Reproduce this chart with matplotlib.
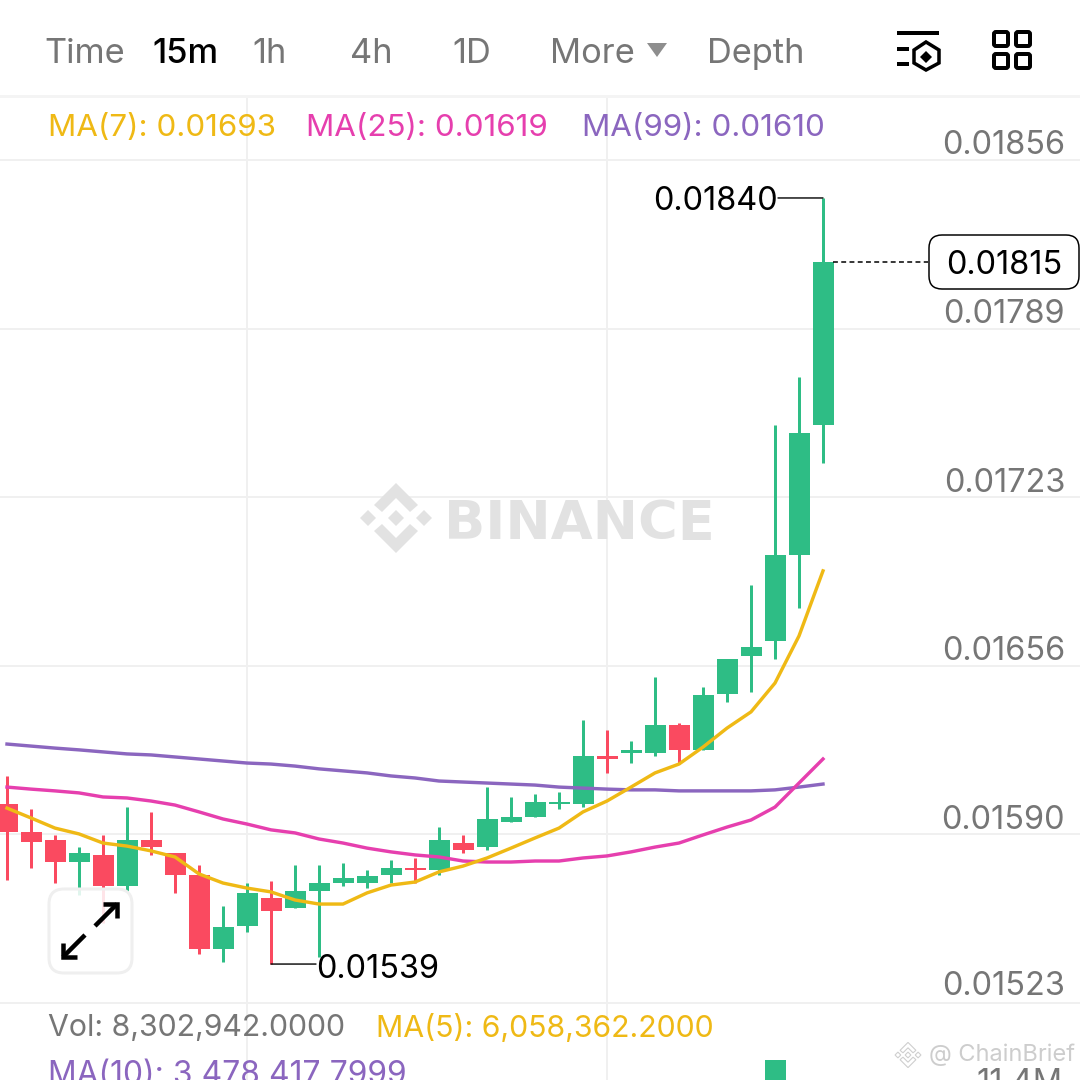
import numpy as np
import matplotlib
matplotlib.use("Agg")
import matplotlib.pyplot as plt
from matplotlib.patches import FancyBboxPatch, Polygon, Rectangle
from matplotlib.transforms import Affine2D, blended_transform_factory

# prices in units of 0.00001
opens = [1601.6,1590.6,1587.4,1578.7,1581.5,1569.2,1587.4,1582.3,1573.6,1544.3,1553.4,1564.5,1560.5,1567.3,1570.4,1570.4,1573.6,1576.3,
         1575.6,1586.2,1584.6,1594.5,1596.5,1601.6,1601.6,1620.6,1621.8,1621.8,1632.8,1623.0,1645.1,1660.1,1666.0,1700.0,1751.3]
closes = [1590.6,1586.6,1578.7,1582.3,1569.2,1587.4,1584.6,1573.6,1544.3,1553.0,1566.5,1559.4,1567.3,1570.4,1572.4,1573.2,1576.3,1575.6,
          1587.4,1583.5,1595.7,1596.5,1602.4,1602.4,1620.6,1619.4,1623.0,1632.8,1623.0,1644.7,1658.9,1663.6,1700.0,1748.2,1815.7]
highs = [1612.7,1599.6,1589.4,1584.6,1589.4,1600.4,1598.5,1582.3,1577.5,1561.3,1570.4,1571.2,1577.5,1577.5,1578.3,1575.6,1579.5,1580.3,
         1592.5,1589.4,1608.3,1604.4,1605.6,1606.4,1634.8,1630.9,1626.5,1651.8,1633.6,1647.8,1658.9,1688.1,1751.3,1770.3,1841.0]
lows = [1571.6,1576.3,1570.4,1565.7,1554.6,1567.3,1581.5,1566.5,1542.4,1539.2,1551.1,1538.4,1560.5,1541.2,1569.2,1568.4,1570.4,1570.4,
        1573.6,1582.3,1583.5,1594.5,1596.5,1599.6,1600.4,1613.9,1617.8,1620.6,1617.4,1623.0,1641.9,1645.9,1658.9,1679.0,1736.3]
ma7 = [1600.0,1596.1,1592.1,1589.8,1586.2,1585.0,1583.1,1580.7,1574.0,1570.4,1568.4,1566.9,1563.7,1562.1,1562.1,1566.5,1569.6,1570.8,
       1574.8,1577.1,1580.3,1584.2,1588.2,1592.1,1598.5,1602.8,1608.3,1613.9,1617.4,1624.1,1631.6,1638.0,1649.4,1668.0,1693.7]
ma25 = [1608.3,1607.5,1606.8,1606.0,1604.4,1604.0,1602.8,1601.2,1598.5,1595.7,1593.7,1591.4,1590.2,1587.8,1586.2,1584.2,1582.7,1581.5,
        1580.7,1579.1,1578.7,1578.7,1579.1,1579.1,1580.3,1581.1,1582.7,1584.6,1586.2,1589.4,1592.5,1595.3,1600.4,1609.9,1619.4]
ma99 = [1625.3,1624.5,1623.7,1623.0,1622.2,1621.4,1621.0,1620.2,1619.4,1618.6,1617.8,1617.4,1616.6,1615.5,1614.7,1613.9,1612.7,1611.9,
        1610.7,1610.3,1609.9,1609.5,1609.1,1608.3,1607.9,1607.5,1607.2,1607.2,1606.8,1606.8,1606.8,1606.8,1607.2,1608.3,1609.5]
vol_index = [32]
vol_values = [11.4e6]
price_ticks = [1856, 1789.4, 1722.8, 1656.2, 1589.6, 1523]
price_labels = ["0.01856", "0.01789", "0.01723", "0.01656", "0.01590", "0.01523"]
time_ticks = [10, 25]
intervals = ["Time", "15m", "1h", "4h", "1D", "More", "Depth"]

GREEN, RED = "#2EBD85", "#FA4A60"
YEL, PINK, PURP, GREY, GRID = "#EFB915", "#E63FAE", "#8B66BF", "#767676", "#F0F0F0"
FS = 21.8      # legend line under the chart
FS_NUM = 23.4  # price labels
FS_HEAD = 24.8 # interval tabs
FS_MA = 22.6   # MA legend

plt.rcParams["font.family"] = ["Inter", "DejaVu Sans"]
fig = plt.figure(figsize=(10.8, 10.8), dpi=100)
px = Affine2D().scale(1 / 1080, -1 / 1080).translate(0, 1) + fig.transFigure
lw = lambda p: p * 0.72

ax = fig.add_axes([0, 0, 1, 1])
ax.set_xlim(-7 / 24, 1073 / 24)
ax.set_ylim(1919.2 - 0.395 * 1080, 1919.2)
for s in ax.spines.values():
    s.set_visible(False)
ax.set_xticks(time_ticks)
ax.set_yticks(price_ticks)
ax.tick_params(length=0, labelleft=False, labelbottom=False)
ax.grid(True, color=GRID, lw=lw(2))
ax.set_axisbelow(True)
ypx = blended_transform_factory(px, ax.transData)

# watermark
def logo(cx, cy, s, **kw):
    shapes = [
        [(0, -8), (8, 0), (0, 8), (-8, 0)],
        [(-28, -8), (-20, 0), (-28, 8), (-36, 0)],
        [(28, -8), (36, 0), (28, 8), (20, 0)],
        [(0, -35), (22, -13), (14, -6), (0, -20), (-14, -6), (-22, -13)],
        [(0, 35), (22, 13), (14, 6), (0, 20), (-14, 6), (-22, 13)],
    ]
    for sh in shapes:
        ax.add_patch(Polygon([(cx + a * s, cy + b * s) for a, b in sh], transform=px, zorder=1.5, **kw))

logo(396, 518, 1, fc="#E2E2E2", ec="none")
ax.text(444, 518, "BINANCE", transform=px, fontsize=39, fontweight="bold", color="#E2E2E2",
        va="center_baseline", ha="left", family=["DejaVu Sans"], zorder=1.5)

# candles
x = np.arange(len(opens))
colors = [GREEN if c >= o else RED for o, c in zip(opens, closes)]
ax.vlines(x, lows, highs, colors=colors, lw=lw(3), zorder=2)
ax.bar(x, np.abs(np.subtract(closes, opens)), bottom=np.minimum(opens, closes), width=0.875, color=colors, zorder=3)

ax.plot(x, ma99, color=PURP, lw=lw(3.4), zorder=4)
ax.plot(x, ma25, color=PINK, lw=lw(3.4), zorder=4)
ax.plot(x, ma7, color=YEL, lw=lw(3.4), zorder=4)

# annotations
leader = dict(arrowstyle="-", color="black", lw=1, shrinkA=0, shrinkB=0)
ax.annotate("", xy=(34, highs[34]), xytext=(778, highs[34]), xycoords="data", textcoords=(px, ax.transData),
            arrowprops=leader, zorder=6)
ax.annotate("", xy=(11, lows[11]), xytext=(316, lows[11]), xycoords="data", textcoords=(px, ax.transData),
            arrowprops=leader, zorder=6)
ax.text(778, 202, "0.01840", transform=px, ha="right", va="center", fontsize=FS_NUM, color="black", zorder=6)
ax.text(316, 969, "0.01539", transform=px, ha="left", va="center", fontsize=FS_NUM, color="black", zorder=6)
ax.plot([833, 928], [closes[34]] * 2, transform=ypx, color="black", lw=1.1, dashes=(3.2, 2.2), zorder=6)

# right tick labels
for t, lab, off in zip(price_ticks, price_labels, [14, 14, 14, 14, 14, 17]):
    ax.annotate(lab, xy=(1065, t), xycoords=(px, ax.transData), xytext=(0, off), textcoords="offset pixels",
                ha="right", va="center", fontsize=FS_NUM, color=GREY, zorder=5)
ax.add_patch(FancyBboxPatch((929, 235), 150, 54, boxstyle="round,pad=0,rounding_size=13", transform=px,
                            fc="white", ec="black", lw=lw(1.5), zorder=6, mutation_aspect=1))
ax.text(1004, 265, "0.01815", transform=px, ha="center", va="center", fontsize=FS_NUM, color="black", zorder=7)

# header
ax.add_patch(Rectangle((0, 0), 1080, 96, transform=px, fc="white", ec="none", zorder=5))
ax.add_patch(Rectangle((0, 95), 1080, 3, transform=px, fc="#F4F4F4", ec="none", zorder=5))
for lab, xp in zip(intervals, [44, 152, 252, 350, 452, 550, 707]):
    ax.text(xp, 54, lab, transform=px, ha="left", va="center", fontsize=FS_HEAD, zorder=6,
            color="black" if lab == "15m" else GREY, fontweight="medium" if lab == "15m" else "normal")
ax.add_patch(Polygon([(647, 43), (667, 43), (657, 57)], transform=px, fc="#8E8E8E", ec="none", zorder=6))
for lab, xp, c in [("MA(7): 0.01693", 48, YEL), ("MA(25): 0.01619", 306, PINK), ("MA(99): 0.01610", 582, PURP)]:
    ax.text(xp, 128, lab, transform=px, ha="left", va="center", fontsize=FS_MA, color=c, zorder=6)

# icons
for xs, ys in [([897, 939], [33, 33]), ([897, 909], [49, 49]), ([897, 909], [64, 64])]:
    ax.plot(xs, ys, transform=px, color="black", lw=lw(4), zorder=6, solid_capstyle="butt")
ax.add_patch(Polygon([(926, 42), (939, 50), (939, 63), (926, 70), (914, 63), (914, 50)], transform=px,
                     fc="white", ec="black", lw=lw(3.5), zorder=6))
ax.add_patch(Polygon([(926, 51), (932, 57), (926, 63), (920, 57)], transform=px, fc="black", ec="none", zorder=7))
for a in (992, 1014):
    for b in (30, 52):
        ax.add_patch(FancyBboxPatch((a + 2, b + 2), 14, 14, boxstyle="round,pad=0,rounding_size=2", transform=px,
                                    fc="white", ec="black", lw=lw(4), zorder=6))

# expand button
ax.add_patch(FancyBboxPatch((49, 889), 83, 84, boxstyle="round,pad=0,rounding_size=15", transform=px,
                            fc=(1, 1, 1, 0.86), ec="#EFEFEF", lw=lw(3), zorder=5))
for xs, ys in [([63, 85], [957, 935]), ([63, 63, 77], [943, 957, 957]),
               ([95, 117], [926, 904]), ([103, 117, 117], [904, 904, 918])]:
    ax.plot(xs, ys, transform=px, color="black", lw=lw(4.5), zorder=6, solid_joinstyle="miter", solid_capstyle="butt")

# volume section
ax.text(48, 1028, "Vol: 8,302,942.0000", transform=px, ha="left", va="center", fontsize=FS, color=GREY, zorder=6)
ax.text(376, 1028, "MA(5): 6,058,362.2000", transform=px, ha="left", va="center", fontsize=FS, color=YEL, zorder=6)
ax.text(48, 1075, "MA(10): 3,478,417.7999", transform=px, ha="left", va="center", fontsize=22.9, color=PURP, zorder=6)
ax.text(1063, 1083, "11.4M", transform=px, ha="right", va="center", fontsize=FS_NUM, color=GREY, zorder=6)

vax = fig.add_axes([0, -160 / 1080, 1, 180 / 1080])
vax.set_xlim(ax.get_xlim())
vax.set_ylim(0, 11.4e6)
vax.axis("off")
vax.bar(vol_index, vol_values, width=0.875, color=GREEN)

# corner watermark
logo(908, 1055, 0.36, fc="white", ec="#CFCFCF", lw=0.8)
ax.text(929, 1055, "@ ChainBrief", transform=px, ha="left", va="center", fontsize=17, color="#CDCDCD", zorder=6)

fig.savefig("out.png", dpi=100)
